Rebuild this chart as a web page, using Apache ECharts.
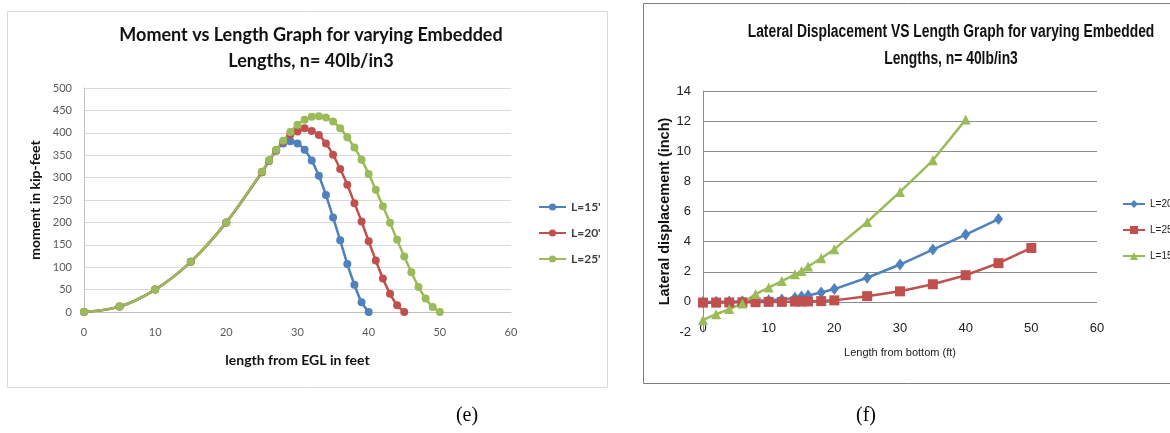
<!DOCTYPE html>
<html><head><meta charset="utf-8">
<script src="https://cdn.jsdelivr.net/npm/echarts@6/dist/echarts.min.js"></script>
<style>
html,body{margin:0;padding:0;background:#fff}
#wrap{position:relative;width:1170px;height:433px}
#c1,#c2{position:absolute;left:0;top:0;width:1170px;height:433px}
</style>
</head><body><div id="wrap"><div id="c1"></div><div id="c2"></div></div>
<script>
// ---------- (e) Moment vs Length ----------
const momentX15 = [0,5,10,15,20,25,26,27,28,29,30,31,32,33,34,35,36,37,38,39,40];
const moment15  = [0,12,50,112,200,312,337,360,376,381,376,362,338,304,261,211,160,107,61,22,0];
const momentX20 = [0,5,10,15,20,25,26,27,28,29,30,31,32,33,34,35,36,37,38,39,40,41,42,43,44,45];
const moment20  = [0,12,50,112,200,312,338,361,380,396,403,410,404,395,376,351,319,284,243,202,158,115,75,41,15,0];
const momentX25 = [0,5,10,15,20,25,26,27,28,29,30,31,32,33,34,35,36,37,38,39,40,41,42,43,44,45,46,47,48,49,50];
const moment25  = [0,12,50,112,200,313,339,362,382,402,418,429,436,437,434,425,410,390,367,340,308,273,236,199,161,124,89,56,30,11,0];
const momentNames = ["L=15'", "L=20'", "L=25'"];
const momentTitle = ['Moment vs Length Graph for varying Embedded', 'Lengths, n= 40lb/in3'];

// ---------- (f) Lateral displacement vs Length ----------
const dispX20 = [0,2,4,6,8,10,12,14,15,16,18,20,25,30,35,40,45];
const disp20  = [0,0.01,0.02,0.04,0.07,0.1,0.15,0.28,0.35,0.42,0.62,0.85,1.6,2.48,3.47,4.47,5.5];
const dispX25 = [0,2,4,6,8,10,12,14,15,16,18,20,25,30,35,40,45,50];
const disp25  = [-0.05,-0.05,-0.04,-0.03,-0.02,0,0,0.02,0.02,0.03,0.05,0.1,0.38,0.7,1.17,1.77,2.57,3.58];
const dispX15 = [0,2,4,6,8,10,12,14,15,16,18,20,25,30,35,40];
const disp15  = [-1.2,-0.82,-0.48,-0.1,0.52,0.95,1.38,1.83,2.05,2.35,2.9,3.5,5.3,7.3,9.4,12.1];
const dispNames = ["L=20'", "L=25'", "L=15'"];
const dispTitle = ['Lateral Displacement VS Length Graph for varying Embedded', 'Lengths, n= 40lb/in3'];

const BLUE = '#4F81BD', RED = '#C0504D', GREEN = '#9BBB59';
const SANS = 'Lato';
const LIB = 'Liberation Sans';
const pairs = (xs, ys) => xs.map((x, i) => [x, ys[i]]);

// ---- chart 1 ----
const c1 = echarts.init(document.getElementById('c1'), null, {renderer: 'canvas'});
function mSeries(name, xs, ys, color) {
  return {name, type: 'line', data: pairs(xs, ys), smooth: 0.3, symbol: 'circle', symbolSize: 8,
    showSymbol: true, lineStyle: {color, width: 2.5}, itemStyle: {color}};
}
c1.setOption({
  animation: false,
  backgroundColor: 'transparent',
  graphic: [
    {type: 'rect', z: -10, shape: {x: 7.5, y: 11.5, width: 600, height: 376}, style: {fill: '#fff', stroke: '#d9d9d9', lineWidth: 1}},
    {type: 'rect', z: -10, shape: {x: 643.5, y: 3.5, width: 560, height: 380}, style: {fill: '#fff', stroke: '#7f7f7f', lineWidth: 1}},
    {type: 'text', z: 5, style: {text: '(e)', x: 467, y: 416, align: 'center', verticalAlign: 'middle', fontSize: 20, fontFamily: 'Liberation Serif', fill: '#000'}},
    {type: 'text', z: 5, style: {text: '(f)', x: 866, y: 416, align: 'center', verticalAlign: 'middle', fontSize: 20, fontFamily: 'Liberation Serif', fill: '#000'}}
  ],
  title: {text: momentTitle.join('\n'), left: 306, top: 17, textAlign: 'center',
    textStyle: {fontFamily: SANS, fontWeight: 'bold', fontSize: 18, lineHeight: 26, color: '#111'}},
  legend: {data: momentNames, orient: 'vertical', left: 538, top: 201, padding: 0, itemWidth: 27, itemHeight: 9, itemGap: 14,
    textStyle: {fontFamily: SANS, fontWeight: 'bold', fontSize: 12, color: '#404040'}},
  grid: {left: 84, right: 659, top: 88, bottom: 121},
  xAxis: {type: 'value', min: 0, max: 60, interval: 10,
    axisLine: {lineStyle: {color: '#bfbfbf'}}, axisTick: {show: false}, splitLine: {show: false},
    axisLabel: {margin: 15, color: '#595959', fontSize: 11, fontFamily: SANS},
    name: 'length from EGL in feet', nameLocation: 'middle', nameGap: 41,
    nameTextStyle: {fontFamily: SANS, fontWeight: 'bold', fontSize: 14, color: '#111'}},
  yAxis: {type: 'value', min: 0, max: 500, interval: 50,
    axisLine: {show: true, lineStyle: {color: '#bfbfbf'}}, axisTick: {show: false},
    splitLine: {lineStyle: {color: '#d9d9d9'}},
    axisLabel: {margin: 12, color: '#595959', fontSize: 11, fontFamily: SANS},
    name: 'moment in kip-feet', nameLocation: 'middle', nameGap: 42,
    nameTextStyle: {fontFamily: SANS, fontWeight: 'bold', fontSize: 14, color: '#111'}},
  series: [
    mSeries(momentNames[0], momentX15, moment15, BLUE),
    mSeries(momentNames[1], momentX20, moment20, RED),
    mSeries(momentNames[2], momentX25, moment25, GREEN)
  ]
});

// ---- chart 2 ----
const c2 = echarts.init(document.getElementById('c2'), null, {renderer: 'canvas'});
function dSeries(name, xs, ys, color, symbol, size) {
  return {name, type: 'line', data: pairs(xs, ys), symbol, symbolSize: size, showSymbol: true,
    lineStyle: {color, width: 2.5}, itemStyle: {color}};
}
c2.setOption({
  animation: false,
  backgroundColor: 'transparent',
  graphic: [
    {type: 'text', x: 951, y: 32, scaleX: 0.77, style: {text: dispTitle[0], align: 'center', verticalAlign: 'middle',
      fontFamily: LIB, fontWeight: 'bold', fontSize: 18, fill: '#111'}},
    {type: 'text', x: 951, y: 59, scaleX: 0.77, style: {text: dispTitle[1], align: 'center', verticalAlign: 'middle',
      fontFamily: LIB, fontWeight: 'bold', fontSize: 18, fill: '#111'}}
  ],
  legend: {data: dispNames, orient: 'vertical', left: 1122, top: 199, padding: 0, itemWidth: 22, itemHeight: 10, itemGap: 16,
    textStyle: {fontFamily: LIB, fontSize: 10, color: '#222'}},
  grid: {left: 703, right: 73, top: 91, bottom: 101},
  xAxis: {type: 'value', min: 0, max: 60, interval: 10,
    axisLine: {show: false, onZero: false}, axisTick: {show: false}, splitLine: {show: false},
    axisLabel: {margin: -10, color: '#222', fontSize: 13, fontFamily: LIB},
    name: 'Length from bottom (ft)', nameLocation: 'middle', nameGap: 15,
    nameTextStyle: {fontFamily: LIB, fontSize: 11, color: '#222'}},
  yAxis: {type: 'value', min: -2, max: 14, interval: 2,
    axisLine: {show: true, lineStyle: {color: '#8c8c8c'}}, axisTick: {show: false},
    splitLine: {showMinLine: false, lineStyle: {color: '#8c8c8c'}},
    axisLabel: {margin: 12, color: '#222', fontSize: 13, fontFamily: LIB},
    name: 'Lateral displacement (inch)', nameLocation: 'middle', nameGap: 31,
    nameTextStyle: {fontFamily: LIB, fontWeight: 'bold', fontSize: 14.5, color: '#111'}},
  series: [
    dSeries(dispNames[0], dispX20, disp20, BLUE, 'diamond', [9, 12]),
    dSeries(dispNames[1], dispX25, disp25, RED, 'rect', 10),
    dSeries(dispNames[2], dispX15, disp15, GREEN, 'triangle', 10)
  ]
});
</script>
</body></html>
